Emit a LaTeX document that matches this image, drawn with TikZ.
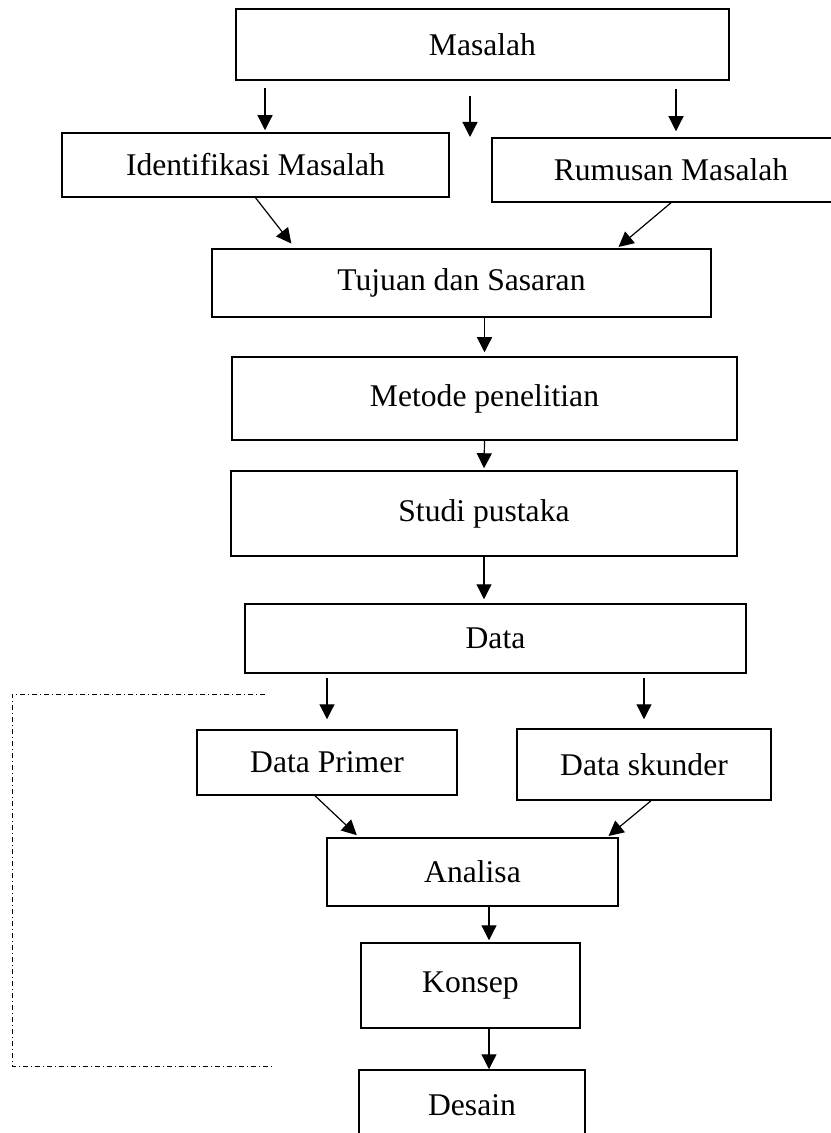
\documentclass[tikz,border=0pt]{standalone}
\usepackage{fontspec}
\setmainfont{Liberation Serif}
\usepackage{tikz}
\usetikzlibrary{arrows.meta,positioning}

\begin{document}
\begin{tikzpicture}[
    x=0.5pt, y=-0.5pt,
    every node/.style={align=center, font=\fontsize{15.8}{19}\selectfont},
    box/.style={rectangle, draw, line width=0.75pt, inner sep=0pt},
    topbox/.style={box, line width=1pt},
    arrow/.style={line width=0.6pt, -{Triangle[length=7.5pt,width=7.5pt]}},
    frame/.style={line width=0.5pt, dash pattern=on 2.5pt off 1.5pt on 0.5pt off 1.5pt}
]
\useasboundingbox (0,0) rectangle (830,1133);

% Masalah
\node[topbox, minimum width=246.5pt, minimum height=35.5pt] (masalah) at (482.5,44.5) {Masalah};

% Identifikasi dan rumusan
\node[box, minimum width=193.5pt, minimum height=32pt] (ident) at (255.5,165) {Identifikasi Masalah};
\node[box, minimum width=179pt, minimum height=32pt] (rumusan) at (671,170) {Rumusan Masalah};

% Alur utama
\node[box, minimum width=249.5pt, minimum height=34pt] (tujuan) at (461.5,283) {Tujuan dan Sasaran};
\node[box, minimum width=252.5pt, minimum height=41.5pt] (metode) at (484.5,398.5) {Metode penelitian};
\node[box, minimum width=253pt, minimum height=42.5pt] (studi) at (484,513.5) {Studi pustaka};
\node[box, minimum width=250.5pt, minimum height=34.5pt] (data) at (495.5,638.5) {Data};

% Jenis data
\node[box, minimum width=130pt, minimum height=32.5pt] (primer) at (327,762.5) {Data Primer};
\node[box, minimum width=127pt, minimum height=35.5pt] (skunder) at (644,764.5) {Data skunder};

% Analisa sampai desain
\node[box, minimum width=145.5pt, minimum height=34pt] (analisa) at (472.5,872) {Analisa};
\node[box, minimum width=109.5pt, minimum height=42.5pt] (konsep) at (470.5,985.5) {Konsep};
\node[box, minimum width=113pt, minimum height=35pt] (desain) at (472,1105) {Desain};

% Titik bantu
\coordinate (a1) at (265,0);
\coordinate (a3) at (676,0);
\coordinate (tengah) at (470,137);
\coordinate (k1) at (295,0);
\coordinate (k2) at (617,0);
\coordinate (k3) at (315,0);
\coordinate (k4) at (359,0);
\coordinate (k5) at (651,0);
\coordinate (k6) at (607,0);
\coordinate (k7) at (489,0);

% Panah dari masalah
\draw[arrow, shorten <=3.5pt, shorten >=1pt] (masalah.south -| a1) -- (ident.north -| a1);
\draw[arrow, shorten <=7.5pt] (masalah.south -| tengah) -- (tengah);
\draw[arrow, shorten <=4pt, shorten >=3pt] (masalah.south -| a3) -- (rumusan.north -| a3);

% Ke tujuan
\draw[arrow, shorten >=3pt] (ident.south) -- (tujuan.north -| k1);
\draw[arrow, shorten >=1pt] (rumusan.south) -- (tujuan.north -| k2);

% Alur utama
\draw[arrow, shorten >=2pt] (tujuan.south -| metode.north) -- (metode.north);
\draw[arrow, shorten >=1pt] (metode.south) -- (studi.north);
\draw[arrow, shorten >=2pt] (studi.south) -- (data.north -| studi.south);

% Data primer dan skunder
\draw[arrow, shorten <=2pt, shorten >=5pt] (data.south -| primer.north) -- (primer.north);
\draw[arrow, shorten <=2pt, shorten >=4.5pt] (data.south -| skunder.north) -- (skunder.north);
\draw[arrow, shorten >=1.5pt] (primer.south -| k3) -- (analisa.north -| k4);
\draw[arrow, shorten >=1pt] (skunder.south -| k5) -- (analisa.north -| k6);

% Konsep dan desain
\draw[arrow, shorten >=1pt] (analisa.south -| k7) -- (konsep.north -| k7);
\draw[arrow] (konsep.south -| k7) -- (desain.north -| k7);

% Garis batas
\coordinate (f1) at (265,694);
\coordinate (f2) at (12,694);
\coordinate (f3) at (12,1066);
\coordinate (f4) at (273,1066);
\draw[frame] (f1) -- (f2) -- (f3) -- (f4);

\end{tikzpicture}
\end{document}
